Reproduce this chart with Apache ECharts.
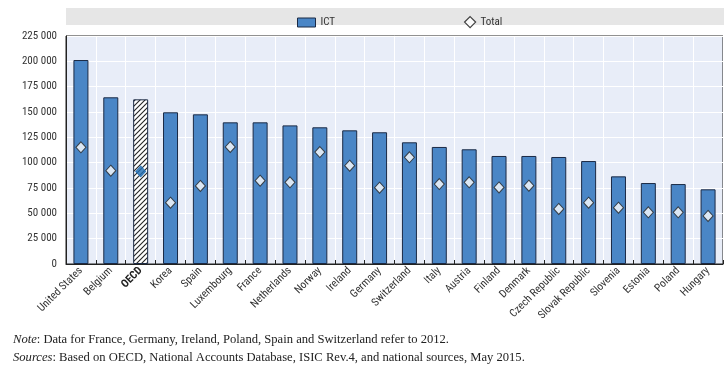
<!DOCTYPE html>
<html><head><meta charset="utf-8">
<script src="https://cdn.jsdelivr.net/npm/echarts@6/dist/echarts.min.js"></script>
<style>html,body{margin:0;padding:0;background:#fff}#c{width:726px;height:371px}</style>
</head><body><div id="c"></div>
<script>
var categories = ["United States","Belgium","OECD","Korea","Spain","Luxembourg","France","Netherlands","Norway","Ireland","Germany","Switzerland","Italy","Austria","Finland","Denmark","Czech Republic","Slovak Republic","Slovenia","Estonia","Poland","Hungary"];
var ictValues = [201300,164500,162500,149700,147700,139800,139800,136800,134900,131900,130000,120100,115500,113200,106600,106600,105600,101600,86500,79900,78900,73700];
var totalValues = [115100,92100,91400,60500,77000,115500,82200,80600,110500,97000,75300,105300,78900,80600,75600,77300,54300,60500,55600,51000,51000,47400];
var yTicks = [0,25000,50000,75000,100000,125000,150000,175000,200000,225000];

var FONT = '"Liberation Sans Narrow","Roboto Condensed","Liberation Sans",Arial,sans-serif';
var SERIF = '"Liberation Serif",serif';
var BAR = '#4a86c6', EDGE = '#1b2a45';

// hatch pattern for OECD
var pc = document.createElement('canvas'); pc.width = 5; pc.height = 5;
var g = pc.getContext('2d');
g.fillStyle = '#fff'; g.fillRect(0,0,5,5);
g.strokeStyle = '#222'; g.lineWidth = 1.1;
g.beginPath(); g.moveTo(-1,6); g.lineTo(6,-1); g.stroke();
g.beginPath(); g.moveTo(-1,1); g.lineTo(1,-1); g.stroke();
g.beginPath(); g.moveTo(4,6); g.lineTo(6,4); g.stroke();

var barData = ictValues.map(function(v,i){
  if (categories[i] === 'OECD') return {value:v, itemStyle:{color:{image:pc, repeat:'repeat'}}};
  return v;
});
var totData = totalValues.map(function(v,i){
  if (categories[i] === 'OECD') return {value:v, itemStyle:{color:'#1f6db3', borderColor:'#1f6db3'}};
  return v;
});
function fmt(v){ return String(v).replace(/\B(?=(\d{3})+(?!\d))/g,' '); }

var chart = echarts.init(document.getElementById('c'));
chart.setOption({
  animation:false,
  textStyle:{fontFamily:FONT},
  graphic:[
    {type:'rect', left:66, top:8, shape:{width:658, height:17}, style:{fill:'#e6e6e6'}, z:-1},
    {type:'text', left:13, top:333, style:{text:'{i|Note}: Data for France, Germany, Ireland, Poland, Spain and Switzerland refer to 2012.', fill:'#222', font:'12.6px '+SERIF, rich:{i:{fontStyle:'italic', font:'italic 12.6px '+SERIF, fill:'#222'}}}},
    {type:'text', left:13, top:351, style:{text:'{i|Sources}: Based on OECD, National Accounts Database, ISIC Rev.4, and national sources, May 2015.', fill:'#222', font:'12.6px '+SERIF, rich:{i:{fontStyle:'italic', font:'italic 12.6px '+SERIF, fill:'#222'}}}}
  ],
  legend:[
    {left:292, top:12, itemWidth:18, itemHeight:9, data:[{name:'ICT', icon:'rect', itemStyle:{color:BAR, borderColor:EDGE, borderWidth:1}}], textStyle:{fontFamily:FONT, fontSize:11, color:'#333'}, itemGap:5},
    {left:459, top:11, itemWidth:11, itemHeight:11, data:[{name:'Total', icon:'diamond', itemStyle:{color:'#fff', borderColor:'#111', borderWidth:1.2}}], textStyle:{fontFamily:FONT, fontSize:11, color:'#333'}}
  ],
  grid:{left:66, right:3, top:36, bottom:107, show:true, backgroundColor:'#e8edf8', borderColor:'#222', borderWidth:1},
  xAxis:{type:'category', data:categories,
    axisLine:{lineStyle:{color:'#222'}},
    axisTick:{show:true, inside:true, length:4, lineStyle:{color:'#222'}},
    splitLine:{show:true, lineStyle:{color:'#fff', width:1}},
    axisLabel:{rotate:45, fontSize:11, color:'#333', margin:5, fontFamily:FONT,
      formatter:function(v){ return v==='OECD' ? '{b|'+v+'}' : v; },
      rich:{b:{fontWeight:'bold', fontSize:11, color:'#222', fontFamily:FONT}}}
  },
  yAxis:{type:'value', min:0, max:225000, interval:25000,
    axisLine:{show:true, lineStyle:{color:'#222'}},
    axisTick:{show:false},
    splitLine:{lineStyle:{color:'#fff', width:1}},
    axisLabel:{fontSize:11, color:'#333', margin:9, fontFamily:FONT,
      formatter:function(v){ return yTicks.indexOf(v)>=0 ? fmt(v) : ''; }}
  },
  series:[
    {name:'ICT', type:'bar', data:barData, barWidth:15,
      itemStyle:{color:BAR, borderColor:EDGE, borderWidth:1}, z:2},
    {name:'Total', type:'scatter', data:totData, symbol:'diamond', symbolSize:[10,11],
      itemStyle:{color:'#fff', borderColor:'#222', borderWidth:1}, z:5}
  ]
});
</script></body></html>
